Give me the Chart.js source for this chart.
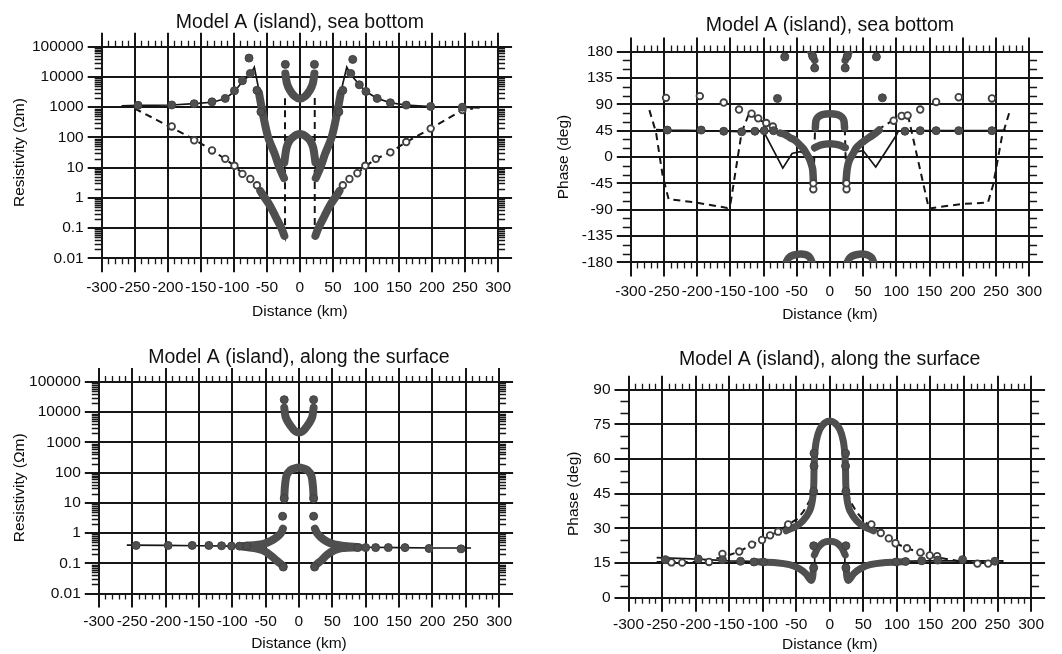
<!DOCTYPE html>
<html>
<head>
<meta charset="utf-8">
<style>
    body { margin: 0; background: #fff; }
    .panel { position: absolute; width: 531px; height: 327px; }
</style>
</head>
<body>
<div class="panel" style="left:0;top:0"><canvas id="sbRho" width="531" height="327"></canvas></div>
<div class="panel" style="left:531px;top:0"><canvas id="sbPhase" width="531" height="327"></canvas></div>
<div class="panel" style="left:0;top:327px"><canvas id="sfRho" width="531" height="327"></canvas></div>
<div class="panel" style="left:531px;top:327px"><canvas id="sfPhase" width="531" height="327"></canvas></div>

<script src="https://cdn.jsdelivr.net/npm/chart.js"></script>
<script>
    // tick labels
    const distTicks = [-300, -250, -200, -150, -100, -50, 0, 50, 100, 150, 200, 250, 300];
    const rhoTicks = [0.01, 0.1, 1, 10, 100, 1000, 10000, 100000];
    const seaPhaseTicks = [-180, -135, -90, -45, 0, 45, 90, 135, 180];
    const surfPhaseTicks = [0, 15, 30, 45, 60, 75, 90];

    // ---- sea bottom, resistivity  [distance km, ohm-m]
    const sbRhoSolid = [[-270,1100],[-245,1150],[-194,1180],[-160,1300],[-133,1450],[-113,1900],[-99,3300],[-87,7000],[-75,12000],[-69,21000],[-64,6000],[-59,1300],[-55,460],[-48,100],[-38,28],[-31,10],[-24,4.5],[-23,14],[-19,47],[-14,80],[-9,105],[-4,125],[0,130],[4,125],[9,105],[14,80],[19,47],[23,14],[24,4.5],[31,10],[38,28],[48,100],[55,460],[59,1300],[65,6000],[71,21000],[77,12000],[90,5500],[100,3300],[117,1950],[137,1400],[161,1170],[198,1050],[246,1000],[272,950]];
    const sbRhoDashed = [[-250,900],[-194,210],[-160,85],[-133,38],[-113,19],[-99,11.5],[-87,6.2],[-75,4.2],[-65,2.5],[-55,1.15],[-45,0.54],[-36,0.22],[-28,0.1],[-22.5,0.05],[-22.5,2000],null,[22.5,2000],[22.5,0.05],[28,0.1],[36,0.22],[45,0.54],[55,1.15],[65,2.5],[75,4.2],[87,6.5],[99,11],[115,19.5],[137,32],[161,70],[198,195],[246,800],[262,900]];
    const sbRhoFilled = [[-245,1150],[-194,1180],[-160,1300],[-133,1500],[-113,1950],[-99,3500],[-87,7500],[-77,42000],[-75,13000],[-65,3600],[-59,700],[-22,26000],[22,26000],[59,700],[65,3600],[77,13000],[80,38000],[90,5500],[100,3300],[117,1950],[137,1400],[161,1170],[198,1050],[246,1000]];
    const sbRhoOpen = [[-194,230],[-160,80],[-133,37],[-113,19.5],[-99,11.5],[-87,6.2],[-75,4.2],[-65,2.6],[65,2.6],[75,4.2],[87,6.5],[99,11.5],[115,19.5],[137,32],[161,70],[198,195],[246,800]];
    const sbRhoBands = [[-62,3000],[-59,1300],[-55,460],[-48,100],[-38,28],[-31,10],[-24,4.5],null,
        [-60,1.7],[-55,1.15],[-45,0.54],[-36,0.22],[-28,0.1],[-23.5,0.055],null,
        [-23.5,15],[-20,47],[-15,82],[-9,108],[-4,125],[0,130],[4,125],[9,108],[15,82],[20,47],[23.5,15],null,
        [-22,13000],[-19.5,6000],[-15,3600],[-8,2300],[0,1900],[8,2300],[15,3600],[19.5,6000],[22,13000],null,
        [24,4.5],[31,10],[38,28],[48,100],[55,460],[59,1300],[62,3000],null,
        [23.5,0.055],[28,0.1],[36,0.22],[45,0.54],[55,1.15],[60,1.7]];

    // ---- sea bottom, phase  [distance km, deg]
    const sbPhaseSolid = [[-262,47],[-245,46],[-195,45],[-160,44],[-135,43.5],[-100,44],[-71,-19],[-57,6],[-45,9],[-38,6],[-33,-4],[-28,-22],[-25,-50],null,[-23,15],[-12,21],[0,23],[12,21],[23,15],null,[25,-50],[28,-20],[33,0],[36,8],[50,11],[69,-17],[100,37],[103,44],[135,45],[160,45],[194,45],[244,45],[265,46]];
    const sbPhaseDashed = [[-272,80],[-262,42],[-252,-32],[-243,-72],[-200,-78],[-155,-87],[-150,-81],[-133,42],[-121,77],[-117,72],[-102,61],[-90,55],[-81,49],[-67,38],[-52,28],[-40,14],[-31,-3],[-26,-21],[-25,-55],[-22.5,45],[-21,62],[-18,68],[-12,72],[0,74],[12,72],[18,68],[21,62],[22.5,45],[25,-55],[26,-21],[31,-3],[40,16],[52,28],[60,34],[74,48],[90,59],[102,67],[117,74],[149,-88],[200,-80],[238,-78],[246,-47],[259,34],[270,75]];
    const sbPhaseFilled = [[-245,46],[-194,46],[-160,44],[-133,43],[-113,44],[-99,45],[-85,45],[-79,100],[-68,171],[-26,172],[-23,152],[23,152],[26,172],[70,171],[79,101],[113,44],[136,45],[160,45],[194,45],[244,45]];
    const sbPhaseOpen = [[-247,101],[-196,104],[-160,93],[-137,81],[-118,74],[-108,66],[-96,58],[-86,52],[-25,-55],[-25,-45],[25,-55],[25,-45],[96,62],[108,70],[117,71],[136,81],[160,94],[194,102],[244,100]];
    const sbPhaseBands = [[-75,41],[-67,38],[-60,33],[-52,28],[-45,20],[-40,14],[-35,5],[-31,-3],[-28,-12],[-26,-21],[-25,-40],null,
        [-22,50],[-21,62],[-18,68],[-12,72],[-6,73.5],[0,74],[6,73.5],[12,72],[18,68],[21,62],[22,50],null,
        [-23,16],[-15,20],[-7,22],[0,22.5],[7,22],[15,20],[23,16],null,
        [24,-45],[26,-20],[29,-6],[35,6],[40,16],[50,26],[60,34],[68,40],[74,46],null,
        [-66,-180],[-62,-172],[-56,-168],[-48,-166],[-40,-166],[-34,-168],[-30,-172],[-27,-180],null,
        [26,-180],[30,-172],[36,-168],[44,-166],[52,-166],[58,-168],[63,-172],[66,-180],null,
        [-29,180],[-26,172],[-23,165],null,[23,165],[26,172],[29,180]];

    // ---- along the surface, resistivity
    const sfRhoSolid = [[-258,0.40],[-200,0.39],[-150,0.38],[-100,0.37],[-60,0.37],null,[60,0.35],[100,0.34],[150,0.33],[200,0.32],[258,0.32]];
    const sfRhoFilled = [[-244,0.39],[-196,0.39],[-160,0.39],[-135,0.39],[-116,0.38],[-101,0.37],[-89,0.37],[-78,0.37],[-24.5,3.6],[-22,26000],[-22,14],[-23.5,0.075],[23.5,0.075],[22,14],[22,26000],[22,3.6],[88,0.33],[100,0.33],[115,0.33],[134,0.33],[159,0.33],[195,0.31],[243,0.30]];
    const sfRhoBands = [[-22,14000],[-20,7000],[-16,4600],[-10,3000],[-5,2300],[0,2150],[5,2300],[10,3000],[16,4600],[20,7000],[22,14000],null,
        [-22,14],[-21,35],[-18.5,80],[-13,120],[-6,140],[0,147],[6,140],[13,120],[18.5,80],[21,35],[22,14],null,
        [-85,0.37],[-65,0.40],[-53,0.44],[-42,0.55],[-33,0.74],[-27,1.0],[-24,1.4],null,
        [-85,0.36],[-65,0.31],[-53,0.26],[-42,0.18],[-33,0.12],[-27,0.095],[-23.5,0.08],null,
        [24,1.4],[27,1.0],[33,0.72],[42,0.52],[53,0.42],[65,0.38],[90,0.34],null,
        [23.5,0.08],[27,0.095],[33,0.12],[42,0.19],[53,0.27],[65,0.32],[90,0.34]];

    // ---- along the surface, phase
    const sfPhaseSolid = [[-258,17.4],[-196,16.7],[-150,16],[-99,15.7],[-60,14.3],[-40,11.4],[-30,8.5],[-27,7.8],[-24,10],[-22.5,14],[-22.5,19],[-15,22],[-8,24],[0,24.5],[8,24],[15,22],[22.5,19],[22.5,14],[24,10],[27,7.8],[30,8.5],[40,11.4],[60,14.3],[71,15.7],[144,16],[259,16]];
    const sfPhaseDashed = [[-258,15.5],[-200,15.5],[-160,17.5],[-135,20],[-116,23],[-101,25],[-89,27],[-77,28.6],[-62,31.7],[-49,34],[-40,37],[-30,42],[-24,50],[-22.5,60],[-20,68],[-15,73],[-8,75.5],[0,76.5],[8,75.5],[15,73],[20,68],[22.5,60],[24,50],[30,42],[40,37],[49,34],[57,31.7],[76,28],[88,25.7],[98,23.6],[115,21.4],[135,19.6],[149,18.3],[159,17.5],[200,15.5],[258,15.5]];
    const sfPhaseFilled = [[-245,16.5],[-196,16.8],[-160,16.5],[-133,15.8],[-113,15.5],[-99,15.5],[-24,22.5],[24,22.5],[-24,13],[24,13],[-23.5,62.5],[23.5,62.5],[-23.5,57],[23.5,57],[-24,46],[24,46],[99,15.5],[113,15.7],[137,16],[161,16.3],[198,16.5],[246,15.8]];
    const sfPhaseOpen = [[-236,15.3],[-220,15.2],[-180,15.5],[-160,19],[-135,20],[-116,23],[-101,25],[-89,27],[-77,28.6],[-62,31.7],[62,31.7],[76,28],[88,25.7],[98,23.6],[115,21.4],[135,19.6],[149,18.3],[160,18],[220,14.8],[236,14.8]];
    const sfPhaseBands = [[-65,29],[-50,31],[-40,33.3],[-30,37.6],[-26,42],[-24,48],[-23.5,55],[-22.5,62],[-20,68],[-15,72.8],[-8,75.5],[0,76.5],[8,75.5],[15,72.8],[20,68],[22.5,62],[23.5,55],[24,48],[26,42],[30,37.6],[40,33.3],[50,31],[65,29],null,
        [-110,15.6],[-80,15.2],[-60,14.3],[-45,12.5],[-36,10.5],[-31,8.5],[-28,7.5],[-25.5,9],[-24.5,13],null,
        [24.5,13],[25.5,9],[28,7.5],[31,8.5],[36,10.5],[45,12.5],[60,14.3],[80,15.2],[110,15.6],null,
        [-23,18.5],[-18,21.5],[-10,23.8],[0,24.5],[10,23.8],[18,21.5],[23,18.5]];

    Chart.defaults.font.family = "'Liberation Sans', Arial, sans-serif";
    Chart.defaults.color = '#0d0d0d';

    // null in a list = break in the line
    function pts(arr) {
        let lastX = 0;
        return arr.map(p => {
            if (!p) return {x: lastX, y: null};
            lastX = p[0];
            return {x: p[0], y: p[1]};
        });
    }

    function lineSet(arr, dashed) {
        return {data: pts(arr), borderColor: '#151515', borderWidth: dashed ? 2 : 1.7,
            borderDash: dashed ? [7, 5] : [], pointRadius: 0, tension: 0, order: 3};
    }
    function bandSet(arr, w) {
        return {data: pts(arr), borderColor: '#4f4f4f', borderWidth: w, borderCapStyle: 'round',
            borderJoinStyle: 'round', pointRadius: 0, tension: 0.3, order: 2};
    }
    function dotSet(arr, open) {
        return {data: pts(arr), showLine: false, pointRadius: open ? 3.3 : 4,
            pointBackgroundColor: open ? '#fff' : '#4f4f4f', pointBorderColor: '#404040',
            pointBorderWidth: open ? 1.8 : 1, order: 1};
    }

    // grid lines running past the frame + minor ticks outside it
    const framePlugin = {
        id: 'frame',
        beforeDatasetsDraw(chart, args, opts) {
            const {ctx, chartArea: a} = chart;
            const x = chart.scales.x, y = chart.scales.y;
            const ext = 14;
            ctx.save();
            ctx.strokeStyle = '#161616';
            ctx.lineWidth = 2;
            ctx.beginPath();
            distTicks.forEach(v => {
                const px = Math.round(x.getPixelForValue(v));
                ctx.moveTo(px, a.top - ext);
                ctx.lineTo(px, a.bottom + ext);
            });
            opts.major.forEach(v => {
                const py = Math.round(y.getPixelForValue(v));
                ctx.moveTo(a.left - ext, py);
                ctx.lineTo(a.right + ext, py);
            });
            ctx.stroke();
            ctx.lineWidth = 1.3;
            ctx.beginPath();
            for (let v = -290; v < 300; v += 10) {
                if (v % 50 === 0) continue;
                const px = Math.round(x.getPixelForValue(v)) + 0.5;
                ctx.moveTo(px, a.top);
                ctx.lineTo(px, a.top - 6);
                ctx.moveTo(px, a.bottom);
                ctx.lineTo(px, a.bottom + 6);
            }
            opts.minor.forEach(v => {
                const py = Math.round(y.getPixelForValue(v)) + 0.5;
                ctx.moveTo(a.left, py);
                ctx.lineTo(a.left - opts.len, py);
                ctx.moveTo(a.right, py);
                ctx.lineTo(a.right + opts.len, py);
            });
            ctx.stroke();
            ctx.restore();
        }
    };

    const titleSize = 19.5;

    function build(id, p) {
        const yScale = {
            type: p.log ? 'logarithmic' : 'linear',
            min: p.yTicks[0],
            max: p.yTicks[p.yTicks.length - 1],
            afterBuildTicks: s => { s.ticks = p.yTicks.map(v => ({value: v})); },
            afterFit: s => { s.width = p.left; },
            grid: {display: false, drawTicks: false},
            border: {display: false},
            ticks: {padding: 18, font: {size: 15.5}, callback: v => String(v)},
            title: {display: true, text: p.yTitle, font: {size: 15.5}, padding: {top: p.yTitlePad, bottom: 0}}
        };
        return new Chart(document.getElementById(id), {
            type: 'line',
            data: {datasets: p.datasets},
            plugins: [framePlugin],
            options: {
                responsive: false,
                animation: false,
                layout: {padding: {left: 0, right: 531 - p.right, top: 0, bottom: 0}},
                plugins: {
                    legend: {display: false},
                    tooltip: {enabled: false},
                    title: {display: true, text: p.title, fullSize: false, color: '#111',
                        font: {size: titleSize, weight: 'normal', lineHeight: 1.2},
                        padding: {top: p.titleTop, bottom: p.top - p.titleTop - titleSize * 1.2}},
                    frame: {major: p.yTicks, minor: p.minor, len: p.minorLen}
                },
                scales: {
                    x: {
                        type: 'linear', min: -300, max: 300,
                        afterBuildTicks: s => { s.ticks = distTicks.map(v => ({value: v})); },
                        afterFit: s => { s.height = 327 - p.bottom; },
                        grid: {display: false, drawTicks: false},
                        border: {display: false},
                        ticks: {padding: p.xPad, autoSkip: false, maxRotation: 0, font: {size: 15.5}},
                        title: {display: true, text: 'Distance (km)', font: {size: 15.5}, padding: {top: 0, bottom: p.xTitlePad}}
                    },
                    y: yScale
                }
            }
        });
    }

    const logMinor = [];
    rhoTicks.slice(0, -1).forEach(d => { for (let k = 2; k <= 9; k++) logMinor.push(k * d); });
    const seaMinor = [];
    for (let v = -165; v < 180; v += 15) if (v % 45 !== 0) seaMinor.push(v);
    const surfMinor = [];
    for (let v = 5; v < 90; v += 5) if (v % 15 !== 0) surfMinor.push(v);

    build('sbRho', {
        title: 'Model A (island), sea bottom', yTitle: 'Resistivity (\u03A9m)', log: true,
        yTicks: rhoTicks, minor: logMinor, minorLen: 7,
        left: 101.7, right: 517.3, top: 46.7, bottom: 258.3, titleTop: 10.5, xPad: 20, xTitlePad: 6, yTitlePad: 10,
        datasets: [dotSet(sbRhoFilled, false), dotSet(sbRhoOpen, true), bandSet(sbRhoBands, 8),
            lineSet(sbRhoSolid, false), lineSet(sbRhoDashed, true)]
    });
    build('sbPhase', {
        title: 'Model A (island), sea bottom', yTitle: 'Phase (deg)', log: false,
        yTicks: seaPhaseTicks, minor: seaMinor, minorLen: 8,
        left: 99.8, right: 515.4, top: 51.6, bottom: 262.4, titleTop: 14, xPad: 20, xTitlePad: 3, yTitlePad: 23.5,
        datasets: [dotSet(sbPhaseFilled, false), dotSet(sbPhaseOpen, true), bandSet(sbPhaseBands, 7.5),
            lineSet(sbPhaseSolid, false), lineSet(sbPhaseDashed, true)]
    });
    build('sfRho', {
        title: 'Model A (island), along the surface', yTitle: 'Resistivity (\u03A9m)', log: true,
        yTicks: rhoTicks, minor: logMinor, minorLen: 7,
        left: 98.8, right: 516, top: 55, bottom: 266.5, titleTop: 18.5, xPad: 19, xTitlePad: 1, yTitlePad: 10,
        datasets: [dotSet(sfRhoFilled, false), bandSet(sfRhoBands, 8), lineSet(sfRhoSolid, false)]
    });
    build('sfPhase', {
        title: 'Model A (island), along the surface', yTitle: 'Phase (deg)', log: false,
        yTicks: surfPhaseTicks, minor: surfMinor, minorLen: 8,
        left: 97.5, right: 513.7, top: 62.7, bottom: 270.8, titleTop: 21, xPad: 18, xTitlePad: 0, yTitlePad: 33.5,
        datasets: [dotSet(sfPhaseFilled, false), dotSet(sfPhaseOpen, true), bandSet(sfPhaseBands, 7),
            lineSet(sfPhaseSolid, false), lineSet(sfPhaseDashed, true)]
    });
</script>
</body>
</html>
